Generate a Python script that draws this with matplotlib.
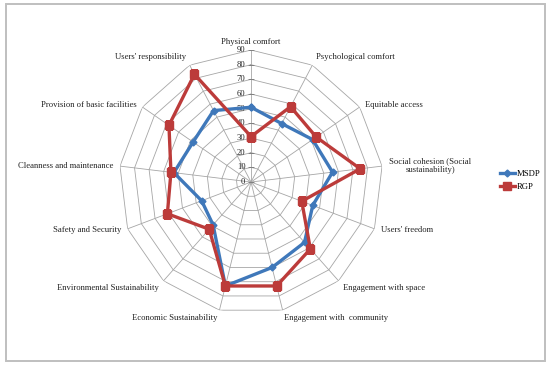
import matplotlib
matplotlib.use("Agg")
import matplotlib.pyplot as plt
import numpy as np
from matplotlib.patches import Rectangle

categories = [
    "Physical comfort",
    "Psychological comfort",
    "Equitable access",
    "Social cohesion (Social\nsustainability)",
    "Users' freedom",
    "Engagement with space",
    "Engagement with  community",
    "Economic Sustainability",
    "Environmental Sustainability",
    "Safety and Security",
    "Cleanness and maintenance",
    "Provision of basic facilities",
    "Users' responsibility",
]
msdp = [51, 45, 51, 56, 45, 55, 60, 73, 39, 36, 53, 48, 55]
rgp = [31, 58, 54, 75, 37, 61, 73, 73, 43, 61, 55, 68, 83]
ticks = [0, 10, 20, 30, 40, 50, 60, 70, 80, 90]

blue = "#3F78BA"
red = "#BC3B3A"
grid = "#A6A6A6"

plt.rcParams["font.family"] = ["Liberation Serif", "DejaVu Serif"]
plt.rcParams["font.size"] = 6.2

fig = plt.figure(figsize=(5.5, 3.69), dpi=100)
fig.patches.append(Rectangle((6 / 550, 8 / 369), 539 / 550, 357 / 369,
                             transform=fig.transFigure, fill=False,
                             edgecolor="#BFBFBF", lw=1.4))

ax = fig.add_axes([0.2164, 0.149, 0.48, 0.7154], projection="polar")
ax.set_theta_offset(np.pi / 2)
ax.set_theta_direction(-1)
ax.set_ylim(0, 90)
ax.grid(False)
ax.set_xticks([])
ax.set_yticks([])
ax.spines["polar"].set_visible(False)

n = len(categories)
theta = np.arange(n) * 2 * np.pi / n
closed = np.append(theta, theta[0])

# polygon gridlines and spokes
for r in ticks[1:]:
    ax.plot(closed, [r] * (n + 1), color=grid, lw=0.6, zorder=1)
for t in theta:
    ax.plot([t, t], [0, 90], color=grid, lw=0.6, zorder=1)

# radial tick labels along the top spoke
for r in ticks:
    ax.plot([0], [r], marker="_", color="#808080", ms=4, mew=0.6, zorder=2)
    ax.annotate(str(r), xy=(0, r), xytext=(-4, 0), textcoords="offset points",
                ha="right", va="center", fontsize=6.2, color="#222222")

# category labels
for t, lab in zip(theta, categories):
    s, c = np.sin(t), np.cos(t)
    ha = "left" if s > 0.1 else ("right" if s < -0.1 else "center")
    va = "bottom" if c > 0.7 else ("top" if c < -0.7 else "center")
    ax.annotate(lab, xy=(t, 90), xytext=(5 * s, 3 * c), textcoords="offset points",
                ha=ha, va=va, multialignment="center", fontsize=6.2,
                color="#222222")

ax.plot(closed, msdp + [msdp[0]], color=blue, lw=2.4, marker="D", ms=3.5,
        label="MSDP", zorder=3)
ax.plot(closed, rgp + [rgp[0]], color=red, lw=2.4, marker="s", ms=5.2,
        label="RGP", zorder=4)

fig.legend(loc="center left", bbox_to_anchor=(0.895, 0.51), frameon=False,
           handlelength=1.7, handletextpad=0.25, fontsize=6.2, labelspacing=0.6)

fig.savefig("out.png", dpi=100)
